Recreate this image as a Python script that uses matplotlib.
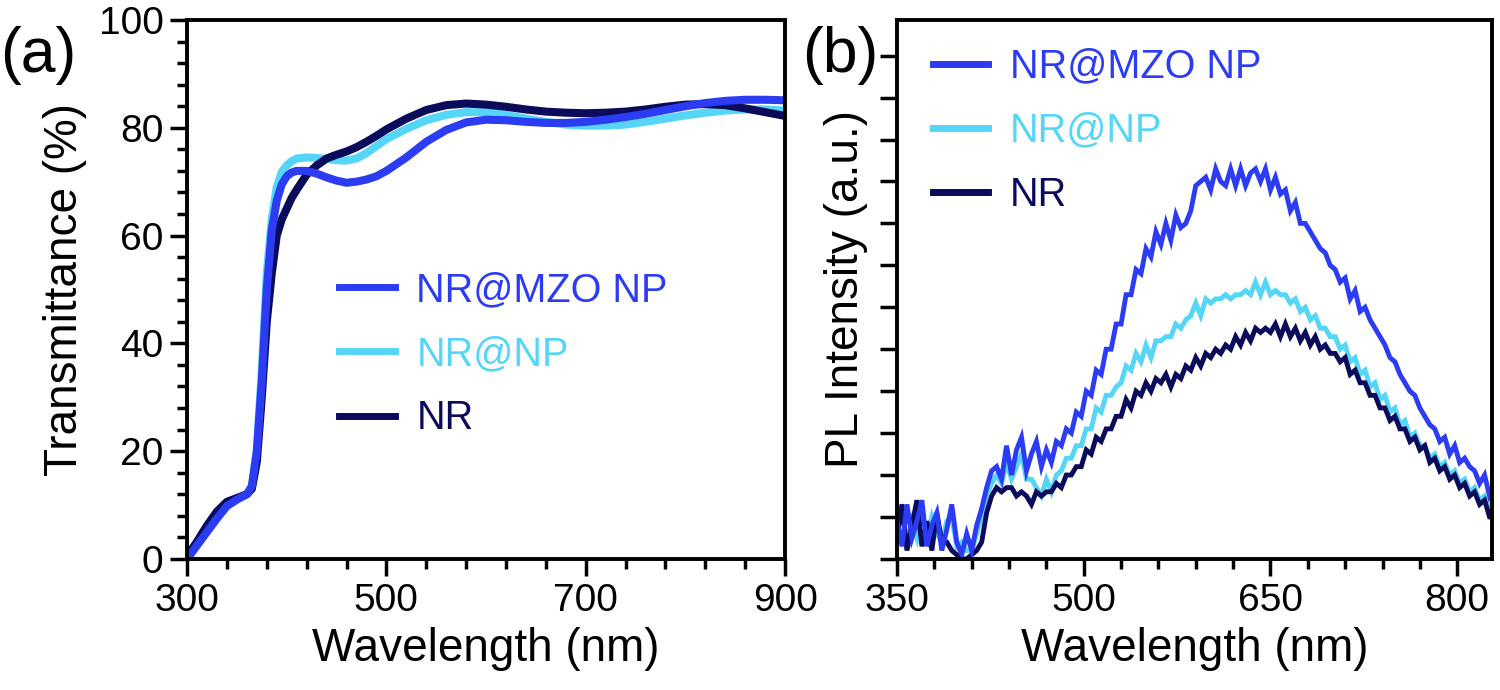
import matplotlib
matplotlib.use("Agg")
import matplotlib.pyplot as plt
import numpy as np
from matplotlib.ticker import MultipleLocator, NullFormatter
from matplotlib.lines import Line2D

plt.rcParams["font.family"] = ["Liberation Sans", "DejaVu Sans"]

labels = ["NR@MZO NP", "NR@NP", "NR"]
colors = ["#2b3cf2", "#55d6f7", "#0b0b5c"]

# (a) transmittance
wl_t = [300, 310, 320, 330, 340, 350, 360, 365, 370, 375,
        380, 385, 390, 395, 400, 405, 410, 420, 430, 440,
        450, 460, 470, 480, 490, 500, 520, 540, 560, 580,
        600, 620, 640, 660, 680, 700, 720, 740, 760, 780,
        800, 820, 840, 860, 880, 900]
t_mzo = [0, 2.5, 5, 7.5, 9.8, 11, 12, 13.5, 20, 33,
         50, 61, 66.5, 69.5, 71, 71.7, 72, 72, 71.5, 70.8,
         70.2, 69.8, 70, 70.4, 71, 72, 74.5, 77.4, 79.6, 81,
         81.5, 81.4, 81.1, 80.9, 80.9, 81.1, 81.5, 82, 82.6, 83.3,
         84, 84.6, 85, 85.2, 85.2, 85.1]
t_np = [0, 2.7, 5.3, 7.8, 10, 11, 12, 13.3, 20, 35,
        53, 63, 69, 71.8, 73, 73.8, 74.3, 74.5, 74.4, 74.2,
        74, 73.9, 74.3, 75.3, 76.6, 77.9, 79.8, 81.4, 82.4, 82.9,
        82.9, 82.4, 81.7, 81.1, 80.6, 80.4, 80.4, 80.6, 81.1, 81.7,
        82.3, 82.8, 83.2, 83.4, 83.4, 83.2]
t_nr = [0.5, 3.2, 6.2, 8.8, 10.6, 11.3, 12, 13, 18, 30,
        44, 53, 60, 63, 65, 67, 68.5, 71.3, 73, 74.3,
        75, 75.6, 76.4, 77.4, 78.5, 79.7, 81.7, 83.3, 84.2, 84.5,
        84.3, 83.9, 83.4, 83, 82.8, 82.7, 82.8, 83, 83.4, 83.9,
        84.3, 84.4, 84.2, 83.6, 82.9, 82.2]

# (b) PL, every 4 nm from 350 to 830
wl_pl = np.arange(350, 831, 4)
pl_mzo = [0.9, 0.3, 1.3, 0.5, 0.9, 1.4, 0.3, 0.8, 1.1, 0.2,
          0.7, 1.3, 0.4, 0.1, 0.6, 0.2, 0.8, 1.2, 1.7, 2.1,
          2.2, 1.9, 2.7, 2.0, 2.6, 2.9, 2.1, 2.5, 2.8, 2.2,
          2.6, 2.3, 2.8, 2.7, 3.1, 3.0, 3.5, 3.4, 4.0, 3.9,
          4.5, 4.4, 5.0, 5.0, 5.6, 5.6, 6.3, 6.3, 6.9, 6.8,
          7.4, 7.2, 7.8, 7.5, 8.0, 7.6, 8.2, 7.9, 8.0, 8.3,
          8.9, 9.0, 9.1, 8.8, 9.3, 9.0, 8.9, 9.3, 8.9, 9.3,
          8.9, 9.2, 9.3, 9.0, 9.3, 8.8, 9.1, 8.7, 8.8, 8.3,
          8.5, 8.0, 8.0, 7.8, 7.6, 7.4, 7.3, 7.0, 6.9, 6.6,
          6.7, 6.2, 6.4, 5.9, 6.0, 5.7, 5.5, 5.3, 5.1, 4.8,
          4.7, 4.4, 4.2, 4.0, 3.9, 3.6, 3.4, 3.2, 3.1, 2.8,
          2.9, 2.5, 2.7, 2.3, 2.4, 2.2, 2.1, 1.8, 2.0, 1.5,
          1.7]
pl_np = [0.7, 1.1, 0.4, 0.9, 0.5, 1.2, 0.5, 1.0, 0.6, 0.4,
         0.9, 1.0, 0.3, 0.4, 0.2, 0.2, 0.6, 1.0, 1.5, 1.8,
         2.0, 1.8, 2.3, 1.9, 2.2, 2.5, 1.9, 1.9, 1.7, 1.5,
         1.9, 1.6, 2.0, 2.1, 2.4, 2.4, 2.7, 2.7, 3.1, 3.1,
         3.6, 3.5, 3.9, 3.9, 4.1, 4.2, 4.6, 4.5, 4.9, 4.7,
         5.1, 4.8, 5.2, 5.2, 5.3, 5.3, 5.6, 5.5, 5.7, 5.8,
         6.1, 5.8, 6.2, 6.1, 6.2, 6.2, 6.3, 6.2, 6.3, 6.3,
         6.4, 6.3, 6.6, 6.3, 6.6, 6.3, 6.4, 6.3, 6.3, 6.1,
         6.2, 5.9, 6.0, 5.7, 5.8, 5.5, 5.5, 5.3, 5.3, 5.0,
         5.1, 4.7, 4.8, 4.4, 4.5, 4.1, 4.2, 3.8, 3.9, 3.5,
         3.6, 3.2, 3.3, 2.9, 3.0, 2.7, 2.7, 2.4, 2.5, 2.2,
         2.3, 2.0, 2.1, 1.8, 1.9, 1.6, 1.7, 1.4, 1.5, 1.2,
         1.2]
pl_nr = [0.5, 1.3, 0.2, 0.8, 1.4, 0.3, 0.9, 0.2, 1.1, 0.4,
         0.4, 0.2, 0.1, 0.0, 0.0, 0.1, 0.2, 0.4, 1.1, 1.5,
         1.7, 1.6, 1.7, 1.7, 1.5, 1.6, 1.5, 1.3, 1.6, 1.5,
         1.6, 1.6, 1.8, 1.7, 2.0, 2.0, 2.2, 2.2, 2.6, 2.5,
         2.9, 2.8, 3.1, 3.1, 3.4, 3.4, 3.8, 3.6, 4.0, 3.9,
         4.2, 4.0, 4.3, 4.2, 4.4, 4.1, 4.4, 4.3, 4.6, 4.5,
         4.8, 4.6, 4.9, 4.8, 5.0, 4.9, 5.1, 5.0, 5.3, 5.1,
         5.4, 5.2, 5.5, 5.4, 5.5, 5.4, 5.6, 5.3, 5.6, 5.3,
         5.5, 5.2, 5.4, 5.1, 5.3, 5.0, 5.1, 4.9, 4.9, 4.7,
         4.8, 4.4, 4.5, 4.2, 4.2, 3.9, 3.9, 3.6, 3.6, 3.3,
         3.4, 3.1, 3.1, 2.8, 2.9, 2.6, 2.7, 2.3, 2.4, 2.1,
         2.2, 1.9, 2.0, 1.7, 1.8, 1.5, 1.6, 1.3, 1.4, 1.0,
         1.0]

fig = plt.figure(figsize=(15, 6.9), dpi=100)
ax1 = fig.add_axes([0.1247, 0.19, 0.3987, 0.781])
ax2 = fig.add_axes([0.598, 0.19, 0.3967, 0.781])

# draw order: NR@NP, NR, NR@MZO NP
for ys, c in [(t_np, colors[1]), (t_nr, colors[2]), (t_mzo, colors[0])]:
    ax1.plot(wl_t, ys, color=c, lw=5.8, solid_capstyle="butt")
for ys, c in [(pl_np, colors[1]), (pl_nr, colors[2]), (pl_mzo, colors[0])]:
    ax2.plot(wl_pl, ys, color=c, lw=3.5, solid_joinstyle="miter")

ax1.set_xlim(300, 900)
ax1.set_ylim(0, 100)
ax1.xaxis.set_major_locator(MultipleLocator(200, offset=100))
ax1.xaxis.set_minor_locator(MultipleLocator(40, offset=20))
ax1.yaxis.set_major_locator(MultipleLocator(20))
ax1.yaxis.set_minor_locator(MultipleLocator(4))
ax1.set_ylabel("Transmittance (%)", fontsize=33, labelpad=8)

ax2.set_xlim(350, 828)
ax2.set_ylim(0, 12.85)
ax2.xaxis.set_major_locator(MultipleLocator(150, offset=50))
ax2.xaxis.set_minor_locator(MultipleLocator(30, offset=20))
ax2.yaxis.set_major_locator(MultipleLocator(1))
ax2.yaxis.set_major_formatter(NullFormatter())
ax2.set_ylabel("PL Intensity (a.u.)", fontsize=33, labelpad=4)

for ax in (ax1, ax2):
    ax.set_xlabel("Wavelength (nm)", fontsize=33, labelpad=6)
    ax.tick_params(which="major", direction="out", length=12, width=2.5,
                   labelsize=28, pad=5)
    ax.tick_params(which="minor", direction="out", length=7, width=2.5)
    for s in ax.spines.values():
        s.set_linewidth(2.8)

handles = [Line2D([], [], color=c, lw=5) for c in colors]
ax1.legend(handles, labels, loc="upper left", bbox_to_anchor=(0.195, 0.6),
           frameon=False, fontsize=28.5, labelcolor=colors, handlelength=1.4,
           handletextpad=0.55, labelspacing=0.66)
ax2.legend(handles, labels, loc="upper left", bbox_to_anchor=(0.0, 1.015),
           frameon=False, fontsize=28.5, labelcolor=colors, handlelength=1.4,
           handletextpad=0.55, labelspacing=0.66)

fig.text(0.0, 0.92, "(a)", fontsize=45, va="center")
fig.text(0.535, 0.92, "(b)", fontsize=45, va="center")

fig.savefig("out.png", dpi=100)
